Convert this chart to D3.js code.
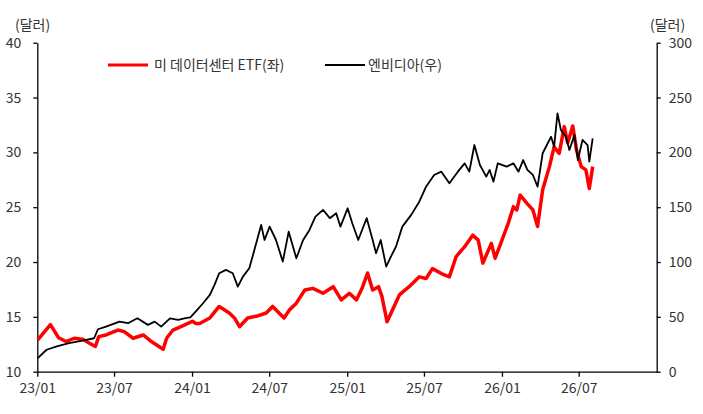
<!DOCTYPE html>
<html>
<head>
<meta charset="utf-8">
<script src="https://cdn.jsdelivr.net/npm/d3@7"></script>
<style>
	body { margin: 0; background: #fff; }
	text { font-family: 'Noto Sans CJK KR', 'Noto Sans', sans-serif; }
</style>
</head>
<body>
<div id="chart"></div>
<script>
// 미 데이터센터 ETF (left axis, 달러)
const etfDates = ['2023-01-02', '2023-02-01', '2023-02-20', '2023-03-10', '2023-03-29', '2023-04-18', '2023-05-04', '2023-05-18', '2023-05-26', '2023-06-12', '2023-07-10', '2023-07-25', '2023-08-15', '2023-09-08', '2023-09-27', '2023-10-25', '2023-11-02', '2023-11-17', '2023-12-11', '2024-01-02', '2024-01-10', '2024-01-19', '2024-02-12', '2024-03-05', '2024-03-29', '2024-04-10', '2024-04-22', '2024-05-11', '2024-05-31', '2024-06-24', '2024-07-09', '2024-08-05', '2024-08-18', '2024-09-03', '2024-09-23', '2024-10-12', '2024-11-05', '2024-11-29', '2024-12-18', '2025-01-06', '2025-01-23', '2025-02-05', '2025-02-18', '2025-03-02', '2025-03-16', '2025-03-24', '2025-04-05', '2025-04-18', '2025-05-04', '2025-05-27', '2025-06-20', '2025-07-06', '2025-07-21', '2025-08-11', '2025-08-30', '2025-09-15', '2025-10-05', '2025-10-24', '2025-11-06', '2025-11-17', '2025-12-07', '2025-12-16', '2026-01-01', '2026-01-16', '2026-01-28', '2026-02-05', '2026-02-13', '2026-03-01', '2026-03-15', '2026-03-26', '2026-04-07', '2026-04-23', '2026-05-04', '2026-05-16', '2026-05-28', '2026-06-05', '2026-06-17', '2026-06-26', '2026-07-07', '2026-07-18', '2026-07-26', '2026-08-03'];
const etfValues = [12.9, 14.3, 13.1, 12.75, 13.05, 12.96, 12.6, 12.3, 13.2, 13.35, 13.8, 13.65, 13.05, 13.35, 12.75, 12.05, 13.05, 13.8, 14.2, 14.6, 14.4, 14.4, 14.9, 15.95, 15.35, 14.9, 14.1, 14.9, 15.05, 15.35, 15.95, 14.9, 15.65, 16.25, 17.45, 17.6, 17.15, 17.75, 16.55, 17.15, 16.55, 17.6, 19.0, 17.45, 17.75, 16.85, 14.55, 15.65, 17.0, 17.75, 18.65, 18.5, 19.4, 18.95, 18.65, 20.5, 21.4, 22.45, 22.0, 19.9, 21.7, 20.35, 22.0, 23.55, 25.05, 24.75, 26.1, 25.35, 24.75, 23.25, 26.6, 28.7, 30.5, 29.9, 32.35, 30.85, 32.4, 30.2, 28.7, 28.4, 26.7, 28.7];

// 엔비디아 (right axis, 달러)
const nvdaDates = ['2023-01-02', '2023-01-23', '2023-02-16', '2023-03-17', '2023-04-18', '2023-05-15', '2023-05-24', '2023-06-12', '2023-07-14', '2023-08-03', '2023-08-25', '2023-09-19', '2023-10-05', '2023-10-20', '2023-11-10', '2023-11-29', '2023-12-14', '2023-12-28', '2024-01-11', '2024-01-27', '2024-02-12', '2024-02-23', '2024-03-05', '2024-03-21', '2024-04-06', '2024-04-18', '2024-04-30', '2024-05-15', '2024-05-27', '2024-06-12', '2024-06-20', '2024-07-02', '2024-07-17', '2024-08-02', '2024-08-16', '2024-09-03', '2024-09-19', '2024-10-04', '2024-10-18', '2024-11-05', '2024-11-21', '2024-12-06', '2024-12-16', '2025-01-02', '2025-01-13', '2025-01-27', '2025-02-16', '2025-03-02', '2025-03-10', '2025-03-21', '2025-04-03', '2025-04-14', '2025-04-26', '2025-05-11', '2025-06-01', '2025-06-20', '2025-07-06', '2025-07-25', '2025-08-11', '2025-08-30', '2025-09-19', '2025-10-05', '2025-10-16', '2025-10-28', '2025-11-10', '2025-11-25', '2025-12-03', '2025-12-12', '2025-12-22', '2026-01-12', '2026-01-28', '2026-02-09', '2026-02-20', '2026-03-02', '2026-03-15', '2026-03-26', '2026-04-07', '2026-04-19', '2026-04-27', '2026-05-04', '2026-05-12', '2026-05-20', '2026-06-01', '2026-06-09', '2026-06-21', '2026-06-29', '2026-07-10', '2026-07-22', '2026-07-26', '2026-08-03'];
const nvdaValues = [12.3, 20, 23, 26, 28.4, 30.5, 38.7, 41.1, 45.7, 44.2, 48.7, 42.7, 45.7, 41.1, 48.7, 47.2, 48.7, 49.5, 55.5, 62.4, 70, 79.1, 89.8, 92.8, 89.8, 77.6, 86.7, 94.3, 111, 133.8, 120.1, 132.3, 120.1, 100.4, 127.7, 103.4, 120.1, 129.3, 141.4, 147.5, 140, 144.5, 132.3, 149, 135.3, 120.1, 140, 120.1, 108, 120.1, 95.8, 104.9, 114, 132.3, 143, 155, 168.7, 179.4, 182.4, 171.8, 182.4, 190, 182.4, 206.7, 188.5, 177.9, 184, 173.3, 190, 187, 190, 182.4, 193, 184, 179.4, 168.7, 199.2, 208.3, 214.3, 205.2, 235.6, 220.4, 214.3, 202.2, 215.9, 193, 211.3, 206.7, 191.5, 212.8];

const xTickDates = ['2023-01-01', '2023-07-01', '2024-01-01', '2024-07-01', '2025-01-01', '2025-07-01', '2026-01-01', '2026-07-01'];
const leftTicks = [10, 15, 20, 25, 30, 35, 40];
const rightTicks = [0, 50, 100, 150, 200, 250, 300];
const legendLabels = ['미 데이터센터 ETF(좌)', '엔비디아(우)'];
const unitLabel = '(달러)';

const parse = d3.timeParse('%Y-%m-%d');
const etf = etfDates.map((d, i) => ({ date: parse(d), value: etfValues[i] }));
const nvda = nvdaDates.map((d, i) => ({ date: parse(d), value: nvdaValues[i] }));

const W = 703, H = 414;
const margin = { top: 42.7, right: 46.3, bottom: 42.3, left: 37.3 },
	width = W - margin.left - margin.right,
	height = H - margin.top - margin.bottom;

const textColor = '#333';
const red = '#ff0000';

const root = d3.select('#chart')
	.append('svg')
	.attr('width', W)
	.attr('height', H);

const svg = root.append('g')
	.attr('transform', `translate(${margin.left},${margin.top})`);

// scales
const x = d3.scaleTime()
	.domain([parse('2023-01-01'), parse('2027-01-01')])
	.range([0, width]);
const yL = d3.scaleLinear().domain([10, 40]).range([height, 0]);
const yR = d3.scaleLinear().domain([0, 300]).range([height, 0]);

function styleAxis(g) {
	g.select('.domain').attr('stroke', '#000').attr('stroke-width', 1.3);
	g.selectAll('.tick line').attr('stroke', '#000').attr('stroke-width', 1.3);
	g.selectAll('.tick text')
		.attr('fill', textColor)
		.style('font-size', '14px');
}

// X axis
svg.append('g')
	.attr('transform', `translate(0,${height})`)
	.call(d3.axisBottom(x)
		.tickValues(xTickDates.map(parse))
		.tickFormat(d3.timeFormat('%y/%m'))
		.tickSize(5)
		.tickSizeOuter(0)
		.tickPadding(6))
	.call(styleAxis);

// left Y axis
svg.append('g')
	.call(d3.axisLeft(yL)
		.tickValues(leftTicks)
		.tickSize(4)
		.tickSizeOuter(0)
		.tickPadding(12))
	.call(styleAxis);

// right Y axis
svg.append('g')
	.attr('transform', `translate(${width},0)`)
	.call(d3.axisRight(yR)
		.tickValues(rightTicks)
		.tickSize(4)
		.tickSizeOuter(0)
		.tickPadding(8))
	.call(styleAxis);

// units
root.append('text')
	.attr('x', 15).attr('y', 30)
	.attr('fill', textColor)
	.style('font-size', '14px')
	.text(unitLabel);
root.append('text')
	.attr('x', 650).attr('y', 30)
	.attr('fill', textColor)
	.style('font-size', '14px')
	.text(unitLabel);

// lines
const lineL = d3.line().x((d) => x(d.date)).y((d) => yL(d.value));
const lineR = d3.line().x((d) => x(d.date)).y((d) => yR(d.value));

svg.append('path')
	.datum(etf)
	.attr('fill', 'none')
	.attr('stroke', red)
	.attr('stroke-width', 3.5)
	.attr('stroke-linejoin', 'round')
	.attr('d', lineL);

svg.append('path')
	.datum(nvda)
	.attr('fill', 'none')
	.attr('stroke', '#000')
	.attr('stroke-width', 1.8)
	.attr('stroke-linejoin', 'round')
	.attr('d', lineR);

// legend
const legend = [
	{ label: legendLabels[0], color: red, w: 3.2, x1: 108, x2: 148, tx: 154 },
	{ label: legendLabels[1], color: '#000', w: 2, x1: 325, x2: 365, tx: 368 }
];
const lg = root.append('g');
legend.forEach((l) => {
	lg.append('line')
		.attr('x1', l.x1).attr('x2', l.x2)
		.attr('y1', 65).attr('y2', 65)
		.attr('stroke', l.color)
		.attr('stroke-width', l.w);
	lg.append('text')
		.attr('x', l.tx).attr('y', 70)
		.attr('fill', textColor)
		.style('font-size', '14px')
		.text(l.label);
});
</script>
</body>
</html>
